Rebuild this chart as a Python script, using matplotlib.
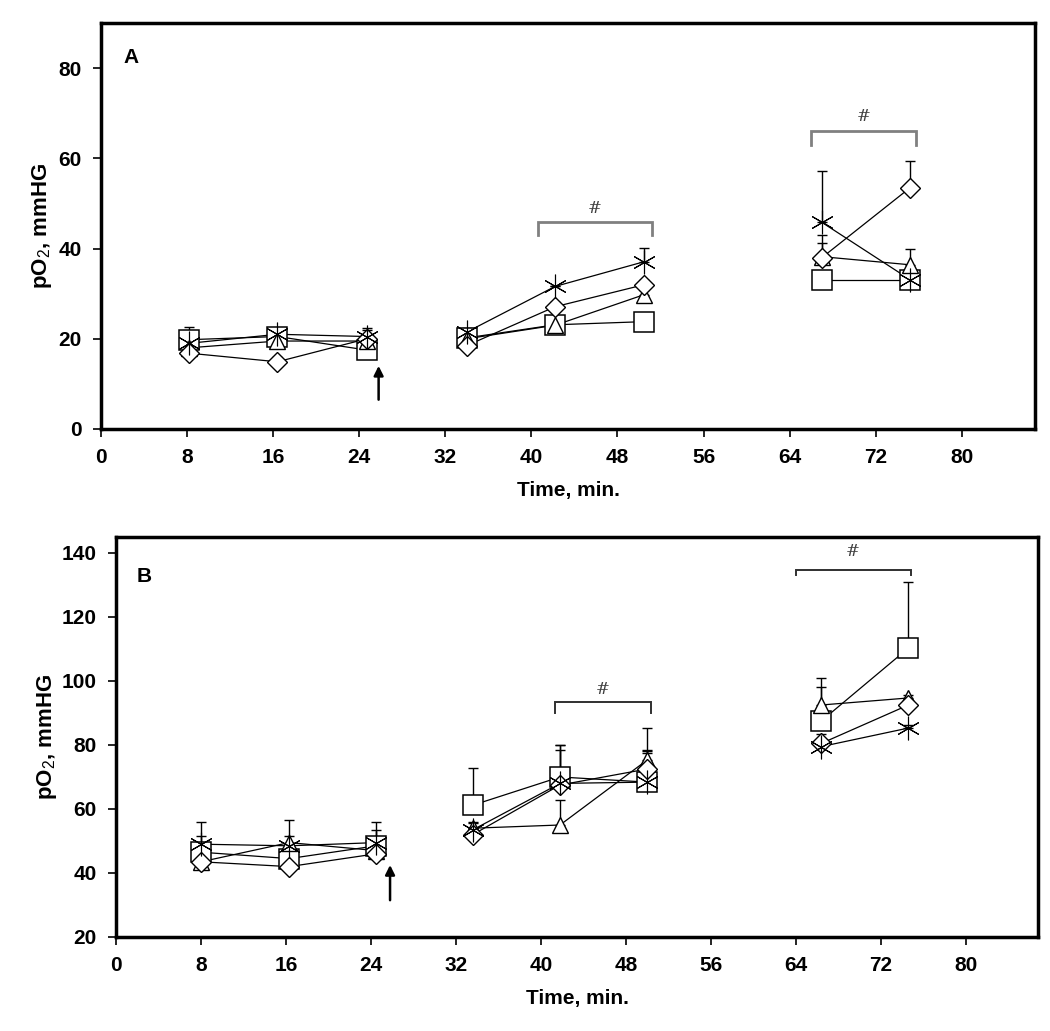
import numpy as np
import matplotlib
matplotlib.use("Agg")
import matplotlib.pyplot as plt

plt.rcParams['font.family'] = ['Liberation Sans', 'DejaVu Sans']
plt.rcParams['mathtext.fontset'] = 'custom'
plt.rcParams['mathtext.rm'] = 'Liberation Sans'

# ---------------- data ----------------
time_a = [8.2, 16.4, 24.7, 34.0, 42.2, 50.5, 67.0, 75.2]
time_b = [8.0, 16.3, 24.5, 33.6, 41.8, 50.0, 66.4, 74.6]
groups = [(0, 3), (3, 6), (6, 8)]

a_square = [19.8, 20.5, 17.5, 20.2, 23.1, 23.8, 33.1, 33.1]
a_diamond = [16.8, 14.9, 20.0, 18.5, 27.1, 32.0, 38.0, 53.5]
a_triangle = [18.0, 19.5, 19.5, 20.0, 23.0, 29.8, 38.2, 36.4]
a_aster = [19.0, 21.0, 20.5, 21.5, 31.6, 37.1, 45.8, 33.1]

a_square_err = [2.8, 1.0, 1.0, 1.0, 1.0, 2.0, 1.0, 1.0]
a_diamond_err = [1.0, 1.0, 2.0, 1.0, 1.0, 1.0, 5.0, 5.8]
a_triangle_err = [1.0, 1.0, 1.0, 1.0, 1.0, 1.0, 3.0, 3.4]
a_aster_err = [1.0, 1.5, 2.0, 1.0, 0.0, 3.1, 11.3, 1.0]

b_square = [46.5, 44.5, 48.5, 61.2, 70.0, 68.4, 87.5, 110.3]
b_diamond = [43.5, 42.0, 46.0, 52.0, 67.5, 72.5, 80.5, 92.5]
b_triangle = [43.5, 49.5, 47.0, 54.0, 55.0, 75.3, 92.5, 94.7]
b_aster = [49.0, 48.5, 49.5, 53.5, 68.0, 68.4, 79.5, 85.3]

b_square_err = [5.0, 3.0, 5.0, 11.6, 10.0, 10.0, 10.5, 20.7]
b_diamond_err = [3.0, 3.0, 3.0, 2.0, 11.0, 5.5, 3.0, 1.0]
b_triangle_err = [3.0, 7.0, 3.0, 2.0, 7.8, 10.0, 8.5, 1.0]
b_aster_err = [7.0, 3.0, 6.5, 2.0, 12.0, 9.0, 2.0, 1.0]

xticks = [0, 8, 16, 24, 32, 40, 48, 56, 64, 72, 80]
yticks_a = [0, 20, 40, 60, 80]
yticks_b = [20, 40, 60, 80, 100, 120, 140]

ASTER = (6, 2, 0)
styles = [
    ('s', 15, 1.1),
    ('^', 11, 1.0),
    ('D', 10, 1.0),
    (ASTER, 17, 0.8),
]

fig = plt.figure(figsize=(10.5, 10.31), dpi=100)
ax_a = fig.add_axes([101/1050, (1031-429)/1031, (1035-101)/1050, (429-23)/1031])
ax_b = fig.add_axes([116/1050, (1031-937)/1031, (1038-116)/1050, (937-537)/1031])


def draw(ax, t, series, errs):
    t = np.array(t)
    for vals, err in zip(series, errs):
        vals = np.array(vals)
        err = np.array(err)
        ax.errorbar(t, vals, yerr=[np.zeros_like(err), err], fmt='none',
                    ecolor='black', elinewidth=1.0, capsize=3.5, capthick=1.0, zorder=1)
    for vals in series:
        vals = np.array(vals)
        for s, e in groups:
            ax.plot(t[s:e], vals[s:e], color='black', lw=0.9, zorder=2)
    for i, ((mk, ms, mew), vals) in enumerate(zip(styles, series)):
        ax.plot(t, vals, linestyle='none', marker=mk, markersize=ms,
                markerfacecolor='white', markeredgecolor='black',
                markeredgewidth=mew, zorder=3 + i)


draw(ax_a, time_a, [a_square, a_triangle, a_diamond, a_aster],
     [a_square_err, a_triangle_err, a_diamond_err, a_aster_err])
draw(ax_b, time_b, [b_square, b_triangle, b_diamond, b_aster],
     [b_square_err, b_triangle_err, b_diamond_err, b_aster_err])


def bracket(ax, x0, x1, y, leg, color, lw, ty):
    ax.plot([x0, x0, x1, x1], [y - leg, y, y, y - leg], color=color, lw=lw,
            solid_joinstyle='miter', zorder=2)
    ax.text((x0 + x1) / 2, ty, '#', ha='center', va='center', fontsize=12,
            color='#404040', family='DejaVu Serif')


bracket(ax_a, 40.6, 51.2, 45.8, 2.8, '#808080', 2.0, 48.8)
bracket(ax_a, 66.0, 75.7, 66.0, 3.0, '#808080', 2.0, 69.2)
bracket(ax_b, 41.3, 50.4, 93.4, 3.3, '#303030', 1.4, 97.5)
bracket(ax_b, 64.0, 74.8, 134.7, 1.5, '#303030', 1.4, 140.5)

ax_a.annotate('', xy=(25.8, 14.0), xytext=(25.8, 6.5),
              arrowprops=dict(arrowstyle='-|>', color='black', lw=1.8,
                              mutation_scale=14, shrinkA=0, shrinkB=0))
ax_b.annotate('', xy=(25.8, 42.5), xytext=(25.8, 31.5),
              arrowprops=dict(arrowstyle='-|>', color='black', lw=1.8,
                              mutation_scale=14, shrinkA=0, shrinkB=0))

ax_a.text(2.8, 82.4, 'A', fontsize=15, fontweight='bold', ha='center', va='center')
ax_b.text(2.7, 132.8, 'B', fontsize=15, fontweight='bold', ha='center', va='center')

for ax, yt, ylim, ylp in [(ax_a, yticks_a, (0, 90), 3), (ax_b, yticks_b, (20, 145), 2)]:
    ax.set_xlim(0, 86.8)
    ax.set_ylim(*ylim)
    ax.set_xticks(xticks)
    ax.set_yticks(yt)
    ax.tick_params(direction='out', length=6, width=1.2, labelsize=15, pad=8)
    for lab in ax.get_xticklabels() + ax.get_yticklabels():
        lab.set_fontweight('bold')
    for sp in ax.spines.values():
        sp.set_linewidth(2.5)
    ax.set_xlabel('Time, min.', fontsize=15, fontweight='bold', labelpad=10)
    ax.set_ylabel(r'pO$_{2}$, mmHG', fontsize=16, fontweight='bold', labelpad=ylp)

fig.savefig('out.png', dpi=100)
